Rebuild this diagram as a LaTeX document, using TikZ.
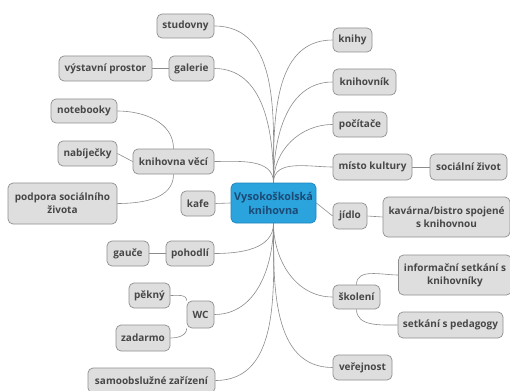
\documentclass[tikz,border=0pt]{standalone}
\usepackage{fontspec}
\setmainfont{Open Sans}
\usetikzlibrary{backgrounds}
\definecolor{boxfill}{HTML}{DEDEDE}
\definecolor{boxborder}{HTML}{8F8F8F}
\definecolor{boxtext}{HTML}{474747}
\definecolor{linecol}{HTML}{8C8C8C}
\definecolor{rootfill}{HTML}{2BA3DC}
\definecolor{rootborder}{HTML}{1F86BF}
\definecolor{roottext}{HTML}{1B4A75}
\begin{document}
\begin{tikzpicture}[x=1pt,y=-1pt,
  box/.style={draw=boxborder, fill=boxfill, rounded corners=5pt, text=boxtext,
    font=\fontsize{10pt}{13pt}\selectfont\bfseries, inner sep=0pt, align=center, line width=0.7pt},
  rootbox/.style={draw=rootborder, fill=rootfill, rounded corners=5pt, text=roottext,
    font=\fontsize{10.8pt}{14pt}\selectfont\bfseries, inner sep=0pt, align=center, line width=0.7pt},
  wh/.style 2 args={minimum width=#1pt, minimum height=#2pt},
  conn/.style={draw=linecol, line width=0.6pt}]
\useasboundingbox (0,0) rectangle (510,390);

\node[rootbox, wh={85}{40}] (root) at (273.5,203) {Vysokoškolská\\knihovna};
\node[box, wh={57}{24}] (studovny) at (185.5,26) {studovny};
\node[box, wh={45}{25}] (galerie) at (191.5,68.5) {galerie};
\node[box, wh={93}{25}] (vystavni) at (105.5,68.5) {výstavní prostor};
\node[box, wh={66}{24}] (notebooky) at (84,111) {notebooky};
\node[box, wh={59}{25}] (nabijecky) at (87.5,153.5) {nabíječky};
\node[box, wh={81}{25}] (veci) at (173.5,161.5) {knihovna věcí};
\node[box, wh={109}{41}] (podpora) at (62.5,203.5) {podpora sociálního\\života};
\node[box, wh={34}{25}] (kafe) at (198,203.5) {kafe};
\node[box, wh={42}{25}] (gauce) at (128,253.5) {gauče};
\node[box, wh={48}{25}] (pohodli) at (190,253.5) {pohodlí};
\node[box, wh={41}{25}] (pekny) at (149.5,295.5) {pěkný};
\node[box, wh={27}{27}] (wc) at (200.5,314.5) {WC};
\node[box, wh={54}{26}] (zadarmo) at (143,338) {zadarmo};
\node[box, wh={127}{25}] (samo) at (151.5,380.5) {samoobslužné zařízení};
\node[box, wh={39}{24}] (knihy) at (352.5,40) {knihy};
\node[box, wh={63}{26}] (knihovnik) at (364.5,82) {knihovník};
\node[box, wh={54}{25}] (pocitace) at (360,124.5) {počítače};
\node[box, wh={79}{26}] (misto) at (372.5,167) {místo kultury};
\node[box, wh={77}{26}] (socialni) at (468.5,167) {sociální život};
\node[box, wh={34}{26}] (jidlo) at (350,216) {jídlo};
\node[box, wh={127}{40}] (kavarna) at (446.5,217) {kavárna/bistro spojené\\s knihovnou};
\node[box, wh={113}{40}] (informacni) at (455,275) {informační setkání s\\knihovníky};
\node[box, wh={47}{24}] (skoleni) at (356.5,297) {školení};
\node[box, wh={105}{26}] (setkani) at (450.5,325) {setkání s pedagogy};
\node[box, wh={59}{25}] (verejnost) at (362.5,367.5) {veřejnost};

\begin{scope}[on background layer]
\fill[white] (0,0) rectangle (510,390);
\path[conn] (root.north) to[out=90,in=0] (studovny.east);
\path[conn] (root.north) to[out=90,in=0] (galerie.east);
\path[conn] (root.north) to[out=90,in=0] (veci.east);
\path[conn] (root.north) to[out=90,in=180] (knihy.west);
\path[conn] (root.north) to[out=90,in=180] (knihovnik.west);
\path[conn] (root.north) to[out=90,in=180] (pocitace.west);
\path[conn] (root.north) to[out=90,in=180] (misto.west);
\path[conn] (root.south) to[out=-90,in=0] (pohodli.east);
\path[conn] (root.south) to[out=-90,in=0] (wc.east);
\path[conn] (root.south) to[out=-90,in=0] (samo.east);
\path[conn] (root.south) to[out=-90,in=180] (skoleni.west);
\path[conn] (root.south) to[out=-90,in=180] (verejnost.west);
\path[conn] (root.west) -- (kafe.east);
\path[conn] (root.east) -- (jidlo.west);
\path[conn] (galerie.west) -- (vystavni.east);
\path[conn] (nabijecky.east) -- (veci.west);
\path[conn] (pohodli.west) -- (gauce.east);
\path[conn] (misto.east) -- (socialni.west);
\path[conn] (jidlo.east) -- (kavarna.west);
\path[conn] (veci.north) to[out=90,in=0] (notebooky.east);
\path[conn] (veci.south) to[out=-90,in=0] (podpora.east);
\path[conn] (wc.north west) to[out=90,in=0] (pekny.east);
\path[conn] (wc.south west) to[out=-90,in=0] (zadarmo.east);
\path[conn] (skoleni.north) to[out=90,in=180] (informacni.west);
\path[conn] (skoleni.south) to[out=-90,in=180] (setkani.west);
\end{scope}
\end{tikzpicture}
\end{document}
